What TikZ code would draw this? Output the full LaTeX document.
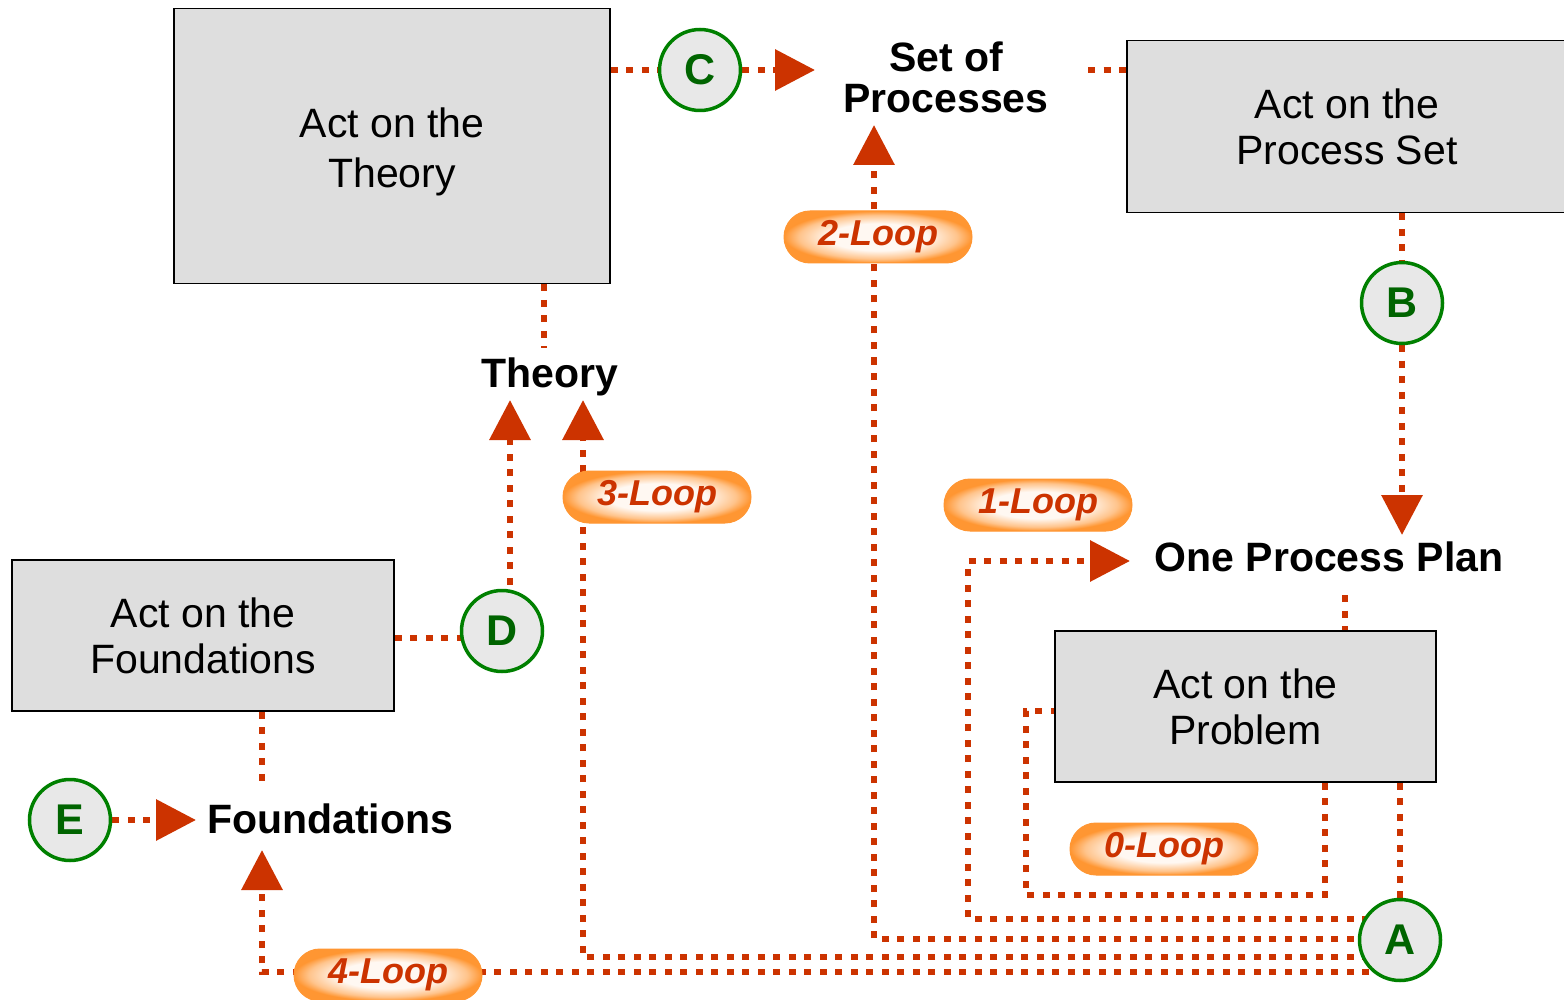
\documentclass[tikz,border=0pt]{standalone}
\usepackage{fontspec}
\setmainfont{Liberation Sans}
\usetikzlibrary{arrows.meta,backgrounds}
\definecolor{lred}{RGB}{204,51,0}
\definecolor{pillor}{RGB}{255,150,50}
\definecolor{pillmid}{RGB}{255,196,140}
\definecolor{pillin}{RGB}{255,248,242}
\definecolor{boxgray}{RGB}{222,222,222}
\definecolor{circfill}{RGB}{232,232,232}
\definecolor{grn}{RGB}{0,128,0}
\definecolor{grntxt}{RGB}{0,100,0}
\pgfdeclareradialshading{pillshade}{\pgfpoint{0bp}{0bp}}{color(0bp)=(pillin); color(13bp)=(pillin); color(21bp)=(pillmid); color(25bp)=(pillor); color(50bp)=(pillor)}
\begin{document}
\begin{tikzpicture}[x=1pt,y=-1pt,
 actbox/.style={draw=black,line width=1.6pt,fill=boxgray,inner sep=0pt,align=center,font=\fontsize{41}{46}\selectfont},
 lbl/.style={font=\bfseries\fontsize{41}{41}\selectfont,align=center,inner sep=0pt},
 letter/.style={circle,draw=grn,line width=3.5pt,fill=circfill,minimum size=81pt,inner sep=0pt,text=grntxt,font=\bfseries\fontsize{43}{43}\selectfont},
 pill/.style={rounded corners=26pt,minimum width=188pt,minimum height=52pt,inner sep=0pt,draw=pillor,line width=1pt,shading=pillshade,text=lred,font=\bfseries\itshape\fontsize{36}{36}\selectfont},
 dot/.style={draw=lred,line width=6.5pt,dash pattern=on 7pt off 8.5pt},
 tip/.style={-{Triangle[length=40pt,width=40pt]}}
]
\useasboundingbox (0,0) rectangle (1564,1000);

% boxes
\node[actbox,minimum width=436pt,minimum height=275pt,font=\fontsize{41}{50}\selectfont,text height=92pt] (theorybox) at (392,146) {Act on the\\Theory};
\node[actbox,minimum width=440pt,minimum height=172pt] (psbox) at (1347,126.5) {Act on the\\Process Set};
\node[actbox,minimum width=382pt,minimum height=151pt] (foundbox) at (203,635.5) {Act on the\\Foundations};
\node[actbox,minimum width=381pt,minimum height=151pt] (probbox) at (1245.5,706.5) {Act on the\\Problem};

% labels
\node[lbl] (setproc) at (946,77) {Set of\\Processes};
\node[lbl] (theorylbl) at (550,377) {Theory};
\node[lbl] (planlbl) at (1329,557) {One Process Plan};
\node[lbl] (foundlbl) at (330,819) {Foundations};

% circles
\node[letter] (C) at (700,70) {C};
\node[letter] (B) at (1402,303) {B};
\node[letter] (D) at (502,631) {D};
\node[letter] (E) at (70,820) {E};
\node[letter] (A) at (1400,940) {A};

% pills
\node[pill] (p2) at (878,237) {2-Loop};
\node[pill] (p3) at (657,497) {3-Loop};
\node[pill] (p1) at (1038,505) {1-Loop};
\node[pill] (p0) at (1164,849) {0-Loop};
\node[pill] (p4) at (388,975) {4-Loop};

% connector ends
\coordinate (tipC) at (815,70);
\coordinate (tipS) at (874,125);
\coordinate (tipB) at (1402,535);
\coordinate (tip1) at (1130,561);
\coordinate (tipD) at (510,400);
\coordinate (tip3) at (583,400);
\coordinate (tipE) at (196,820);
\coordinate (tip4) at (262,850);
\coordinate (spA) at (1088,70);
\coordinate (plA) at (1345,595);
\coordinate (thA) at (544,348);
\coordinate (fdA) at (262,785);
\coordinate (dA) at (470,638);

\begin{scope}[on background layer]
\fill[white] (0,0) rectangle (1564,1000);
\draw[dot] (theorybox.east |- C) -- (C);
\draw[dot,tip] (C) -- (tipC);
\draw[dot] (spA) -- (psbox.west |- spA);
\draw[dot] (psbox.south -| B) -- (B);
\draw[dot,tip] (B) -- (tipB);
\draw[dot] (plA) -- (probbox.north -| plA);
\draw[dot] (probbox.south -| A) -- (A);
\draw[dot] (theorybox.south -| thA) -- (thA);
\draw[dot] (foundbox.east |- dA) -- (dA);
\draw[dot,tip] (tipD |- D) -- (tipD);
\draw[dot] (foundbox.south -| fdA) -- (fdA);
\draw[dot,tip] (E) -- (tipE);
% loops
\draw[dot] (probbox.south -| 1325,0) -- (1325,895) -- (1026,895) -- (1026,711) -- (probbox.west |- 0,711);
\draw[dot,tip] (A |- 0,919) -- (968,919) -- (968,561) -- (tip1);
\draw[dot,tip] (A |- 0,939) -- (874,939) -- (tipS);
\draw[dot,tip] (A |- 0,957) -- (583,957) -- (tip3);
\draw[dot,tip] (A |- 0,972) -- (262,972) -- (tip4);
\end{scope}
\end{tikzpicture}
\end{document}
